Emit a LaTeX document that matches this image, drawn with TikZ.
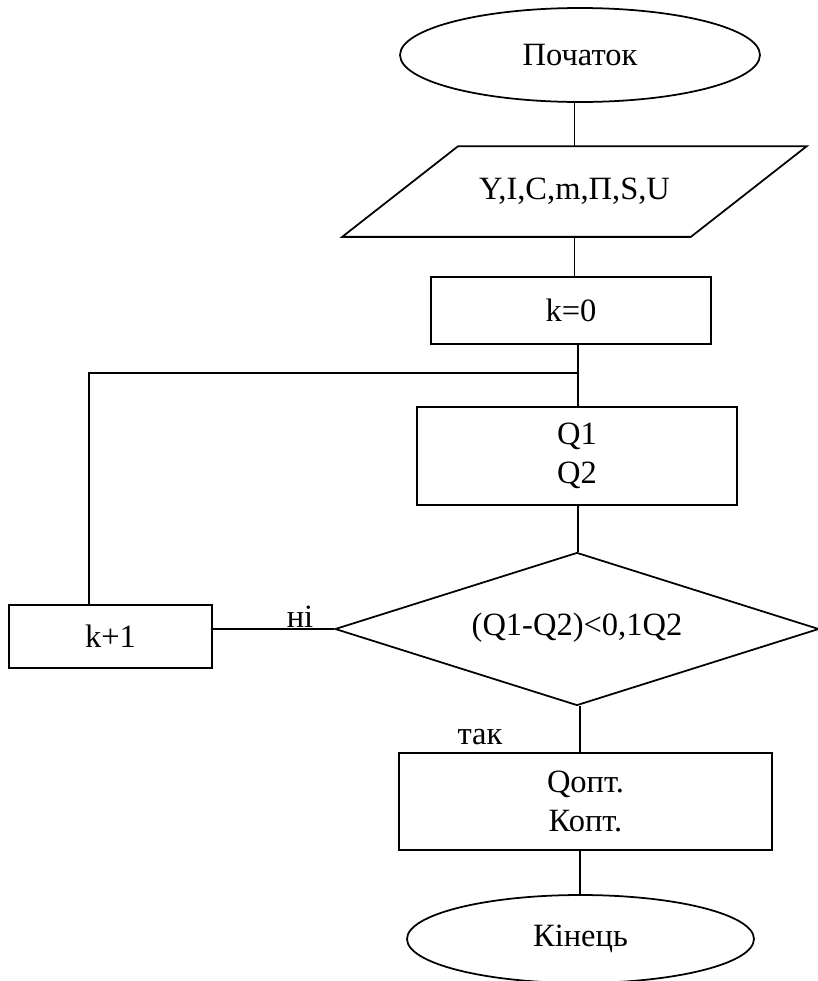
\documentclass[tikz,border=0pt]{standalone}
\usepackage{fontspec}
\setmainfont{Liberation Serif}
\usetikzlibrary{shapes.geometric}

\begin{document}
\begin{tikzpicture}[x=0.02cm,y=-0.02cm,line width=1pt,
  every node/.style={font=\rmfamily\fontsize{18.5}{22}\selectfont},
  term/.style={draw,ellipse,inner sep=0pt},
  blok/.style={draw,rectangle,inner sep=0pt,align=center},
  umova/.style={draw,diamond,aspect=3.2,inner sep=0pt}]
\useasboundingbox (0,0) rectangle (818,981);

\node[term,minimum width=7.2cm,minimum height=1.88cm] (Start) at (580,55) {Початок};
\node[inner sep=0pt,minimum width=6.94cm,minimum height=1.78cm] (Vvid) at (574.5,191.5) {Y,I,C,m,П,S,U};
\draw ([xshift=1.16cm]Vvid.north west) -- ([xshift=1.16cm]Vvid.north east)
  -- ([xshift=-1.16cm]Vvid.south east) -- ([xshift=-1.16cm]Vvid.south west) -- cycle;
\node[blok,minimum width=5.6cm,minimum height=1.34cm] (K0) at (571,310.5) {k=0};
\node[blok,minimum width=6.4cm,minimum height=1.96cm] (Q12) at (577,456) {Q1\\Q2};
\node[umova,minimum width=9.68cm,minimum height=3.06cm] (Umova) at (577,629) {\raisebox{6pt}{(Q1-Q2)<0,1Q2}};
\node[blok,minimum width=4.06cm,minimum height=1.26cm] (K1) at (110.5,636.5) {k+1};
\node[blok,minimum width=7.46cm,minimum height=1.94cm] (Qopt) at (585.5,801.5) {Qопт.\\Копт.};
\node[term,minimum width=6.94cm,minimum height=1.76cm] (End) at (580.5,939) {Кінець};

\node (Ni) at (300,617) {ні};
\node (Tak) at (480,737) {так};

% з'єднання
\coordinate (Vuzol) at (578,373);
\draw (Vvid.north) -- (Vvid.north |- Start.south);
\draw (Vvid.south) -- (Vvid.south |- K0.north);
\draw (Vuzol |- K0.south) -- (Vuzol |- Q12.north);
\draw (Vuzol |- Q12.south) -- (Vuzol |- Umova.north);
\draw (Umova.south) ++(3,0) coordinate (Niz) -- (Niz |- Qopt.north);
\draw (Niz |- Qopt.south) -- (Niz |- End.north);
\draw (Umova.west) -- (Umova.west -| K1.east);
\draw (Vuzol) -| ([xshift=-0.43cm]K1.north);

\end{tikzpicture}
\end{document}
